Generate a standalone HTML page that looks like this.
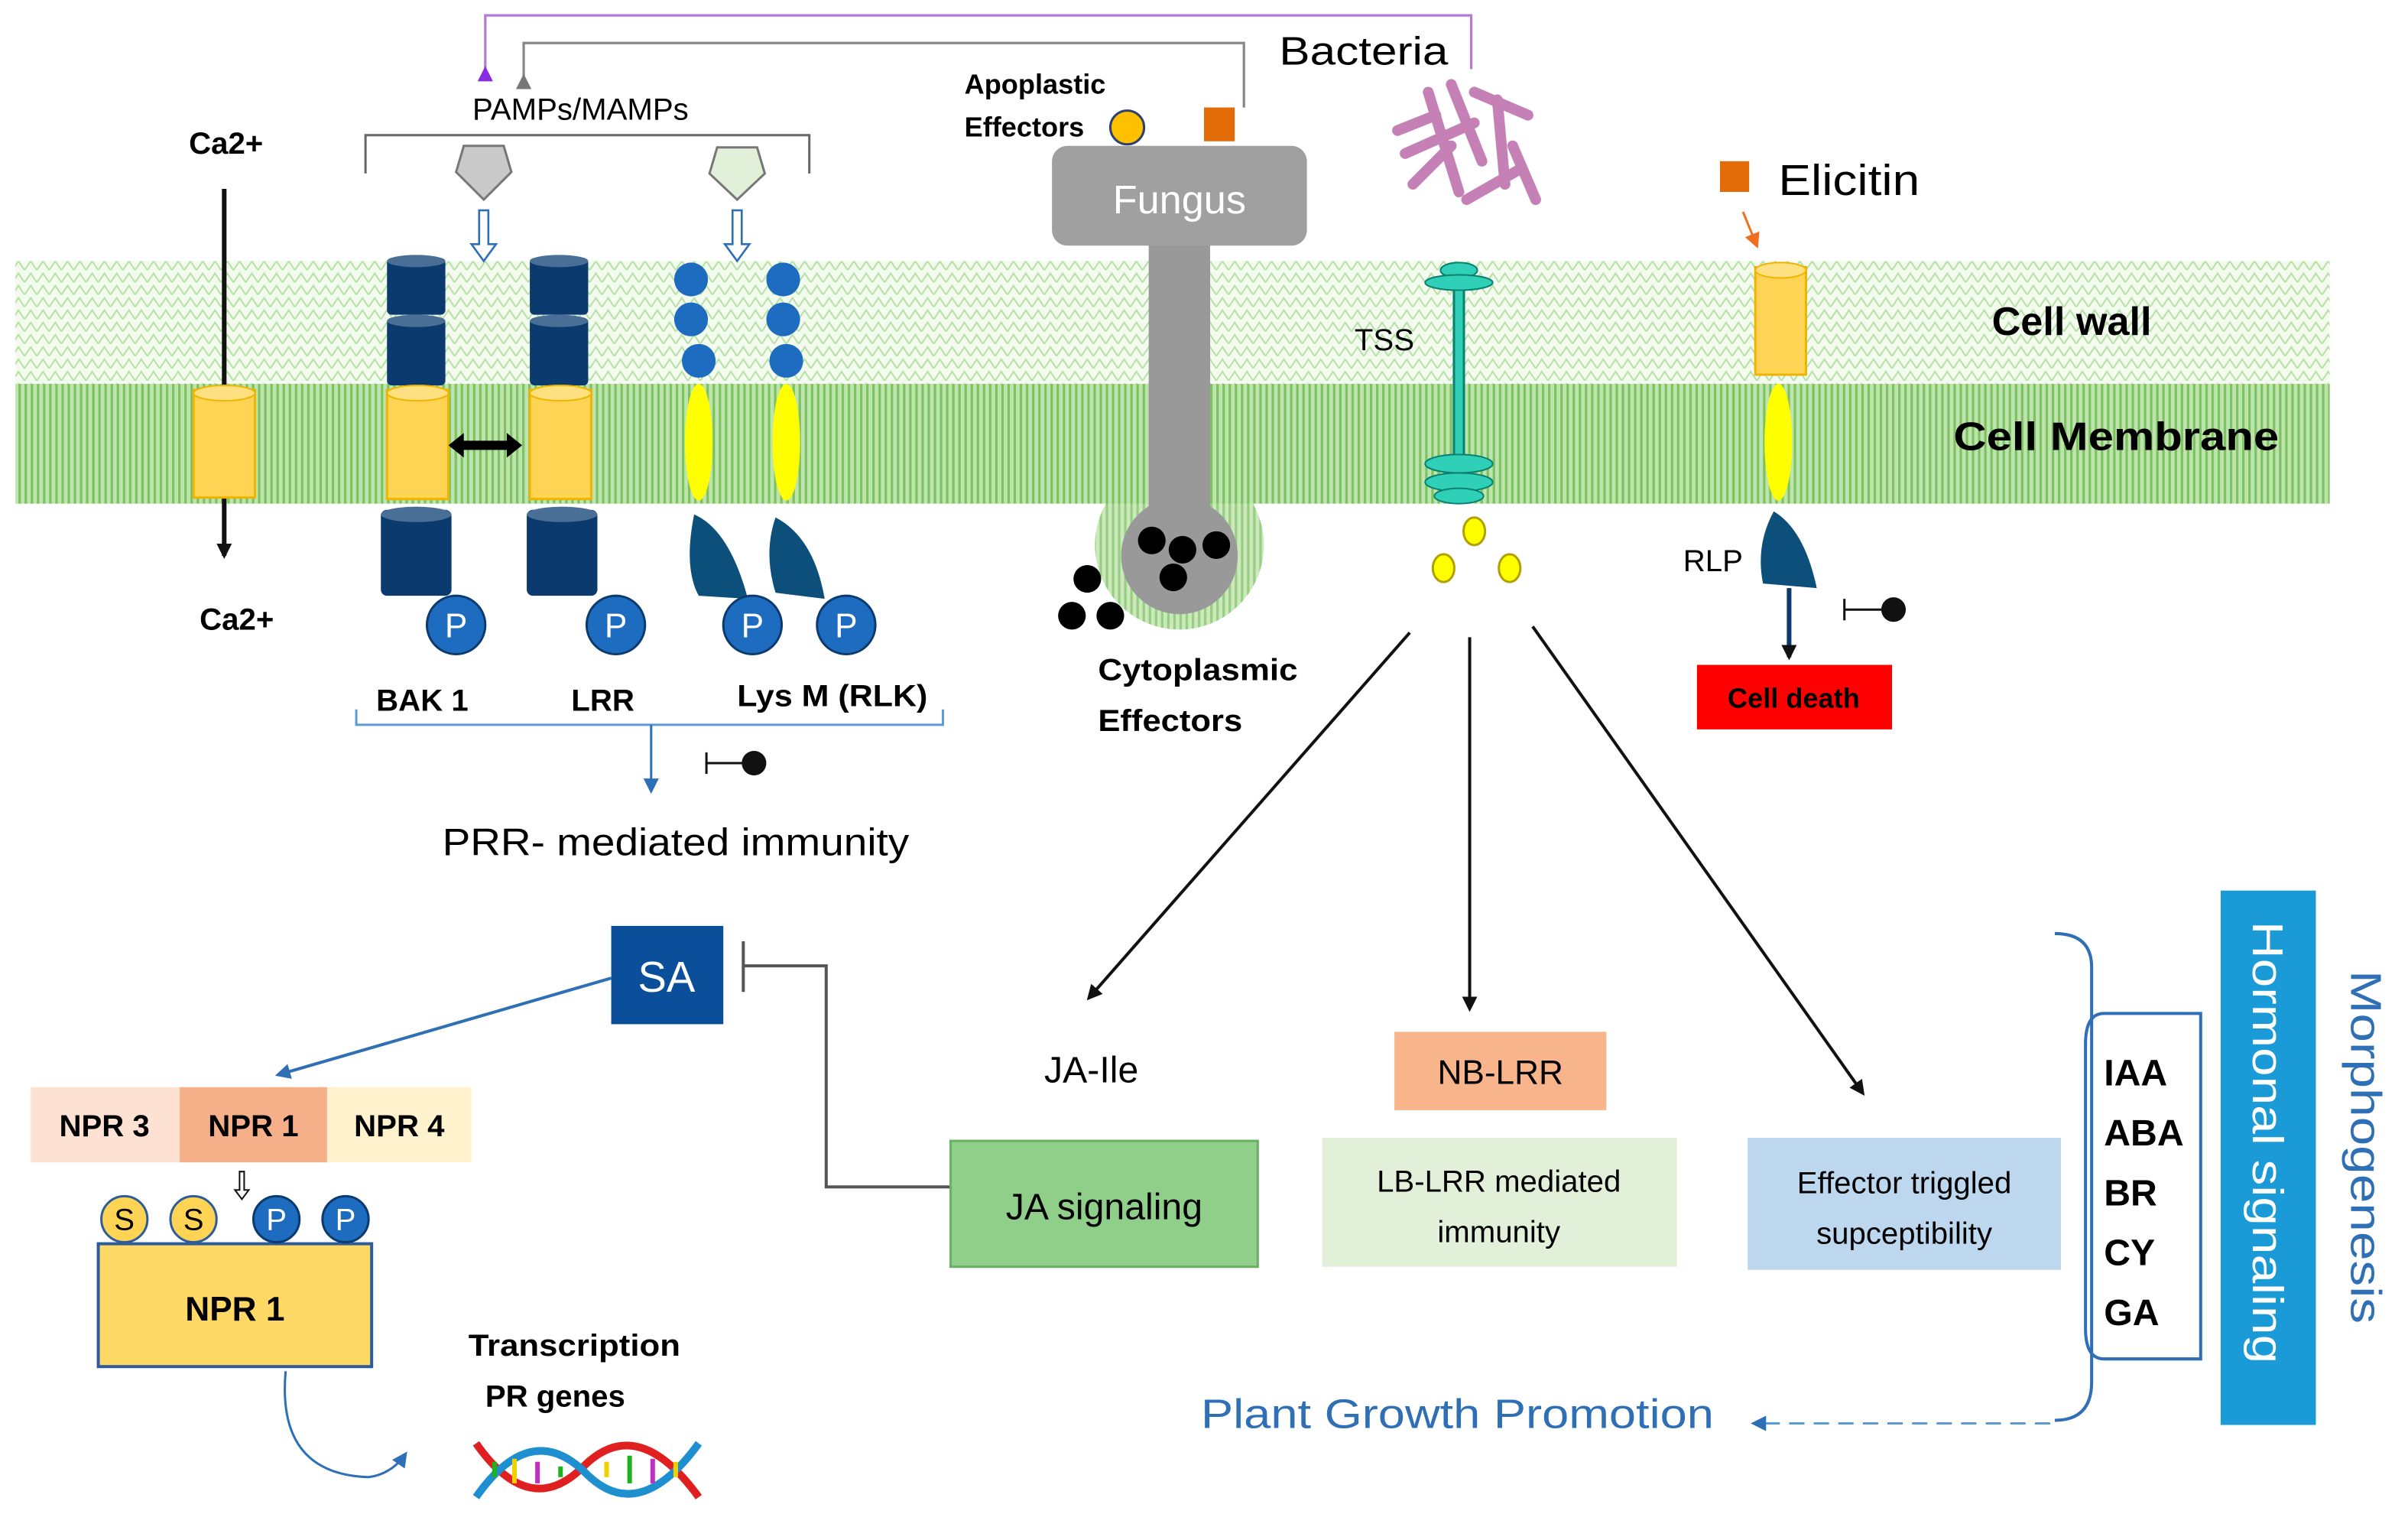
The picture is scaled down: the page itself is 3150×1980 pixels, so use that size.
<!DOCTYPE html>
<html><head><meta charset="utf-8"><style>
html,body{margin:0;padding:0;background:#fff;}
svg{display:block;}
text{font-family:"Liberation Sans","DejaVu Sans",sans-serif;}
.b{font-weight:bold;}
</style></head><body>
<svg width="3150" height="1980" viewBox="0 0 1568 986" preserveAspectRatio="none" xmlns="http://www.w3.org/2000/svg">
<defs>
<pattern id="hatch" width="8" height="8" patternUnits="userSpaceOnUse">
<rect width="8" height="8" fill="#f3fbef"/>
<path d="M0 8 L4 2 L8 8" fill="none" stroke="#b6e0a6" stroke-width="1"/>
</pattern>
<pattern id="vstripe" width="4" height="4" patternUnits="userSpaceOnUse">
<rect width="4" height="4" fill="#bfe3ae"/>
<rect width="1.6" height="4" fill="#7cc35f"/>
</pattern>
<marker id="ab" markerWidth="10" markerHeight="10" refX="8" refY="5" orient="auto" markerUnits="userSpaceOnUse"><path d="M0,0 L10,5 L0,10 z" fill="#111"/></marker>
<marker id="abl" markerWidth="10" markerHeight="10" refX="8" refY="5" orient="auto" markerUnits="userSpaceOnUse"><path d="M0,0 L10,5 L0,10 z" fill="#2e6fb5"/></marker>
<marker id="ap" markerWidth="10" markerHeight="10" refX="8" refY="5" orient="auto" markerUnits="userSpaceOnUse"><path d="M0,0 L10,5 L0,10 z" fill="#8a2be2"/></marker>
<marker id="ag" markerWidth="10" markerHeight="10" refX="8" refY="5" orient="auto" markerUnits="userSpaceOnUse"><path d="M0,0 L10,5 L0,10 z" fill="#777"/></marker>
<marker id="ao" markerWidth="10" markerHeight="10" refX="8" refY="5" orient="auto" markerUnits="userSpaceOnUse"><path d="M0,0 L10,5 L0,10 z" fill="#f07020"/></marker>
</defs>

<rect x="10" y="170" width="1507" height="80" fill="url(#hatch)"/>
<rect x="10" y="250" width="1507" height="78" fill="url(#vstripe)"/>
<text x="1297" y="218" font-size="26" class="b">Cell wall</text>
<text x="1272" y="293" font-size="26" class="b" textLength="212" lengthAdjust="spacingAndGlyphs">Cell Membrane</text>

<polyline points="316,45 316,10 958,10 958,45" fill="none" stroke="#b57ad6" stroke-width="1.6" marker-start="url(#ap)"/>
<polyline points="341,50 341,28 810,28 810,70" fill="none" stroke="#888" stroke-width="1.6" marker-start="url(#ag)"/>
<text x="833" y="42" font-size="26" textLength="110" lengthAdjust="spacingAndGlyphs">Bacteria</text>
<text x="378" y="78" font-size="20" text-anchor="middle">PAMPs/MAMPs</text>
<polyline points="238,113 238,88 527,88 527,113" fill="none" stroke="#666" stroke-width="1.5"/>
<polygon points="302,95 328,95 333,112 315,130 297,112" fill="#c9c9c9" stroke="#777" stroke-width="1.5"/>
<polygon points="467,96 493,96 498,113 480,130 462,113" fill="#e2f0d9" stroke="#777" stroke-width="1.5"/>
<path d="M312,137 h6 v22 h5 l-8,11 l-8,-11 h5 z" fill="#fff" stroke="#2e6fb5" stroke-width="1.3"/>
<path d="M477,137 h6 v22 h5 l-8,11 l-8,-11 h5 z" fill="#fff" stroke="#2e6fb5" stroke-width="1.3"/>

<text x="123" y="100" font-size="20" class="b">Ca2+</text>
<line x1="146" y1="123" x2="146" y2="362" stroke="#111" stroke-width="3" marker-end="url(#ab)"/>
<rect x="126" y="254" width="40" height="70" fill="#ffd455" stroke="#f0b400" stroke-width="1.5"/>
<ellipse cx="146" cy="256" rx="20" ry="5" fill="#ffe080" stroke="#f0b400"/>
<text x="130" y="410" font-size="20" class="b">Ca2+</text>

<g fill="#0b3a6e">
<rect x="252" y="168" width="38" height="37" rx="3"/><rect x="252" y="207" width="38" height="44" rx="3"/>
<rect x="248" y="332" width="46" height="56" rx="4"/>
<rect x="345" y="168" width="38" height="37" rx="3"/><rect x="345" y="207" width="38" height="44" rx="3"/>
<rect x="343" y="332" width="46" height="56" rx="4"/>
</g>
<g fill="#4a6f96">
<ellipse cx="271" cy="170" rx="19" ry="4"/><ellipse cx="271" cy="209" rx="19" ry="4"/><ellipse cx="271" cy="335" rx="23" ry="5"/>
<ellipse cx="364" cy="170" rx="19" ry="4"/><ellipse cx="364" cy="209" rx="19" ry="4"/><ellipse cx="366" cy="335" rx="23" ry="5"/>
</g>
<rect x="252" y="254" width="40" height="71" fill="#ffd455" stroke="#f0b400" stroke-width="1.5"/>
<rect x="345" y="254" width="40" height="71" fill="#ffd455" stroke="#f0b400" stroke-width="1.5"/>
<ellipse cx="272" cy="256" rx="20" ry="5" fill="#ffe080" stroke="#f0b400"/>
<ellipse cx="365" cy="256" rx="20" ry="5" fill="#ffe080" stroke="#f0b400"/>
<path d="M292,290 l10,-8 v5 h28 v-5 l10,8 l-10,8 v-5 h-28 v5 z" fill="#000"/>
<g fill="#1e6cc0">
<circle cx="450" cy="182" r="11"/><circle cx="450" cy="208" r="11"/><circle cx="455" cy="235" r="11"/>
<circle cx="510" cy="182" r="11"/><circle cx="510" cy="208" r="11"/><circle cx="512" cy="235" r="11"/>
</g>
<ellipse cx="455" cy="288" rx="9" ry="38" fill="#ffff00"/>
<ellipse cx="512" cy="288" rx="9" ry="38" fill="#ffff00"/>
<path d="M452,335 Q475,345 487,390 L455,388 Q445,370 452,335 z" fill="#0b4f7a"/>
<path d="M505,337 Q530,350 537,390 L505,386 Q497,360 505,337 z" fill="#0b4f7a"/>
<g fill="#1e6cc0" stroke="#0b3a6e" stroke-width="1.5">
<circle cx="297" cy="407" r="19"/><circle cx="401" cy="407" r="19"/><circle cx="490" cy="407" r="19"/><circle cx="551" cy="407" r="19"/>
</g>
<g fill="#fff" font-size="22" text-anchor="middle">
<text x="297" y="415">P</text><text x="401" y="415">P</text><text x="490" y="415">P</text><text x="551" y="415">P</text>
</g>
<text x="245" y="463" font-size="20" class="b">BAK 1</text>
<text x="372" y="463" font-size="20" class="b">LRR</text>
<text x="480" y="460" font-size="20" class="b" textLength="124" lengthAdjust="spacingAndGlyphs">Lys M (RLK)</text>
<polyline points="232,462 232,472 614,472 614,462" fill="none" stroke="#5b9bd5" stroke-width="1.5"/>
<line x1="424" y1="472" x2="424" y2="515" stroke="#2e6fb5" stroke-width="1.5" marker-end="url(#abl)"/>
<line x1="460" y1="490" x2="460" y2="504" stroke="#111" stroke-width="1.5"/>
<line x1="460" y1="497" x2="485" y2="497" stroke="#111" stroke-width="1.5"/>
<circle cx="491" cy="497" r="8" fill="#111"/>
<text x="288" y="557" font-size="25" textLength="304" lengthAdjust="spacingAndGlyphs">PRR- mediated immunity</text>

<circle cx="768" cy="355" r="55" fill="url(#vstripe)" opacity="0.8"/>
<rect x="748" y="150" width="40" height="190" fill="#999"/>
<circle cx="768" cy="362" r="38" fill="#999"/>
<rect x="685" y="95" width="166" height="65" rx="10" fill="#a0a0a0"/>
<text x="768" y="139" font-size="26" fill="#fff" text-anchor="middle">Fungus</text>
<g fill="#000">
<circle cx="750" cy="352" r="9"/><circle cx="770" cy="358" r="9"/><circle cx="792" cy="355" r="9"/><circle cx="764" cy="376" r="9"/>
<circle cx="708" cy="377" r="9"/><circle cx="698" cy="401" r="9"/><circle cx="723" cy="401" r="9"/>
</g>
<text x="628" y="61" font-size="18" class="b">Apoplastic</text>
<text x="628" y="89" font-size="18" class="b">Effectors</text>
<circle cx="734" cy="83" r="11" fill="#ffc000" stroke="#2e3f70" stroke-width="1.5"/>
<rect x="784" y="70" width="20" height="22" fill="#e36c09"/>
<text x="715" y="443" font-size="20" class="b" textLength="130" lengthAdjust="spacingAndGlyphs">Cytoplasmic</text>
<text x="715" y="476" font-size="20" class="b" textLength="94" lengthAdjust="spacingAndGlyphs">Effectors</text>

<g stroke="#c580b5" stroke-width="7" stroke-linecap="round">
<line x1="930" y1="60" x2="950" y2="125"/><line x1="945" y1="55" x2="965" y2="105"/>
<line x1="915" y1="100" x2="960" y2="80"/><line x1="960" y1="60" x2="995" y2="75"/>
<line x1="975" y1="65" x2="980" y2="120"/><line x1="920" y1="120" x2="945" y2="95"/>
<line x1="985" y1="95" x2="1000" y2="130"/><line x1="955" y1="130" x2="990" y2="110"/>
<line x1="910" y1="85" x2="935" y2="75"/>
</g>
<line x1="950" y1="180" x2="950" y2="310" stroke="#0a8070" stroke-width="8"/>
<line x1="950" y1="180" x2="950" y2="310" stroke="#30d0b8" stroke-width="5"/>
<g fill="#30d0b8" stroke="#0a8070" stroke-width="1">
<ellipse cx="950" cy="176" rx="12" ry="5"/><ellipse cx="950" cy="184" rx="22" ry="5"/>
<ellipse cx="950" cy="302" rx="22" ry="6"/><ellipse cx="950" cy="314" rx="22" ry="6"/><ellipse cx="950" cy="323" rx="16" ry="5"/>
</g>
<text x="882" y="228" font-size="20">TSS</text>
<g fill="#ffff00" stroke="#b0a000" stroke-width="1.5">
<ellipse cx="960" cy="346" rx="7" ry="9"/><ellipse cx="940" cy="370" rx="7" ry="9"/><ellipse cx="983" cy="370" rx="7" ry="9"/>
</g>

<rect x="1120" y="105" width="19" height="20" fill="#e36c09"/>
<text x="1158" y="127" font-size="28" textLength="92" lengthAdjust="spacingAndGlyphs">Elicitin</text>
<line x1="1135" y1="138" x2="1144" y2="160" stroke="#f07020" stroke-width="1.5" marker-end="url(#ao)"/>
<rect x="1143" y="174" width="33" height="70" fill="#ffd455" stroke="#f0b400" stroke-width="1.5"/>
<ellipse cx="1159.5" cy="176" rx="16.5" ry="5" fill="#ffe080" stroke="#f0b400"/>
<ellipse cx="1158" cy="288" rx="9" ry="38" fill="#ffff00"/>
<path d="M1155,333 Q1175,345 1183,383 L1148,380 Q1143,355 1155,333 z" fill="#0b4f7a"/>
<text x="1096" y="372" font-size="20">RLP</text>
<line x1="1165" y1="383" x2="1165" y2="428" stroke="#0b3a6e" stroke-width="3" marker-end="url(#ab)"/>
<line x1="1201" y1="390" x2="1201" y2="404" stroke="#111" stroke-width="1.5"/>
<line x1="1201" y1="397" x2="1228" y2="397" stroke="#111" stroke-width="1.5"/>
<circle cx="1233" cy="397" r="8" fill="#111"/>
<rect x="1105" y="433" width="127" height="42" fill="#ff0000"/>
<text x="1168" y="461" font-size="18" class="b" text-anchor="middle">Cell death</text>

<line x1="918" y1="412" x2="709" y2="650" stroke="#111" stroke-width="2" marker-end="url(#ab)"/>
<line x1="957" y1="415" x2="957" y2="657" stroke="#111" stroke-width="2" marker-end="url(#ab)"/>
<line x1="998" y1="408" x2="1213" y2="712" stroke="#111" stroke-width="2" marker-end="url(#ab)"/>

<rect x="398" y="603" width="73" height="64" fill="#0b4f9a"/>
<text x="434" y="646" font-size="28" fill="#fff" text-anchor="middle">SA</text>
<line x1="398" y1="637" x2="181" y2="700" stroke="#2e6fb5" stroke-width="2" marker-end="url(#abl)"/>
<polyline points="619,773 538,773 538,629 484,629" fill="none" stroke="#555" stroke-width="2"/>
<line x1="484" y1="613" x2="484" y2="646" stroke="#555" stroke-width="2"/>
<text x="680" y="705" font-size="24">JA-Ile</text>

<rect x="20" y="708" width="97" height="49" fill="#fde2d4"/>
<rect x="117" y="708" width="96" height="49" fill="#f5b08a"/>
<rect x="213" y="708" width="94" height="49" fill="#fff2cc"/>
<g font-size="20" class="b" text-anchor="middle">
<text x="68" y="740">NPR 3</text><text x="165" y="740">NPR 1</text><text x="260" y="740">NPR 4</text>
</g>
<path d="M156,763 h3 v12 h3 l-4.5,6 l-4.5,-6 h3 z" fill="#fff" stroke="#111" stroke-width="1"/>
<rect x="64" y="810" width="178" height="80" fill="#ffd966" stroke="#2e5c9a" stroke-width="2"/>
<text x="153" y="860" font-size="22" class="b" text-anchor="middle">NPR 1</text>
<g stroke-width="1.5">
<circle cx="81" cy="794" r="15" fill="#ffd455" stroke="#2e5c9a"/><circle cx="126" cy="794" r="15" fill="#ffd455" stroke="#2e5c9a"/>
<circle cx="180" cy="794" r="15" fill="#1e6cc0" stroke="#0b3a6e"/><circle cx="225" cy="794" r="15" fill="#1e6cc0" stroke="#0b3a6e"/>
</g>
<g font-size="20" text-anchor="middle"><text x="81" y="801">S</text><text x="126" y="801">S</text><text x="180" y="801" fill="#fff">P</text><text x="225" y="801" fill="#fff">P</text></g>
<path d="M186,893 Q180,960 240,962 Q255,960 264,947" fill="none" stroke="#2e6fb5" stroke-width="1.5" marker-end="url(#abl)"/>
<text x="305" y="883" font-size="20" class="b" textLength="138" lengthAdjust="spacingAndGlyphs">Transcription</text>
<text x="316" y="916" font-size="20" class="b">PR genes</text>
<path d="M310,940 Q345,990 380,955 Q415,920 455,975" fill="none" stroke="#e02020" stroke-width="5"/>
<path d="M310,975 Q345,925 380,958 Q415,995 455,940" fill="none" stroke="#1e90d0" stroke-width="5"/>
<g stroke-width="3">
<line x1="322" y1="952" x2="322" y2="962" stroke="#20b020"/><line x1="335" y1="950" x2="335" y2="966" stroke="#f0d000"/>
<line x1="350" y1="952" x2="350" y2="966" stroke="#c030c0"/><line x1="365" y1="955" x2="365" y2="962" stroke="#20b020"/>
<line x1="395" y1="952" x2="395" y2="962" stroke="#f0d000"/><line x1="410" y1="948" x2="410" y2="966" stroke="#20b020"/>
<line x1="425" y1="950" x2="425" y2="966" stroke="#c030c0"/><line x1="440" y1="952" x2="440" y2="962" stroke="#f0d000"/>
</g>

<rect x="619" y="743" width="200" height="82" fill="#8fcf8a" stroke="#6ab064" stroke-width="1.5"/>
<text x="719" y="794" font-size="24" text-anchor="middle">JA signaling</text>
<rect x="908" y="672" width="138" height="51" fill="#f8b48a"/>
<text x="977" y="706" font-size="22" text-anchor="middle">NB-LRR</text>
<rect x="861" y="741" width="231" height="84" fill="#e2f0d9"/>
<text x="976" y="776" font-size="20" text-anchor="middle">LB-LRR mediated</text>
<text x="976" y="809" font-size="20" text-anchor="middle">immunity</text>
<rect x="1138" y="741" width="204" height="86" fill="#bdd7ee"/>
<text x="1240" y="777" font-size="20" text-anchor="middle">Effector triggled</text>
<text x="1240" y="810" font-size="20" text-anchor="middle">supceptibility</text>

<path d="M1338,608 Q1362,608 1362,630 V900 Q1362,925 1338,925" fill="none" stroke="#2e6fb5" stroke-width="2"/>
<path d="M1370,660 Q1358,660 1358,680 V865 Q1358,885 1370,885 H1433 V660 Z" fill="none" stroke="#2e6fb5" stroke-width="2"/>
<g font-size="24" class="b">
<text x="1370" y="707">IAA</text><text x="1370" y="746">ABA</text><text x="1370" y="785">BR</text><text x="1370" y="824">CY</text><text x="1370" y="863">GA</text>
</g>
<rect x="1446" y="580" width="62" height="348" fill="#1a9bd7"/>
<text transform="translate(1467,600) rotate(90)" font-size="28" fill="#fff" textLength="288" lengthAdjust="spacingAndGlyphs">Hormonal signaling</text>
<text transform="translate(1531,632) rotate(90)" font-size="28" fill="#2e6fb5" textLength="230" lengthAdjust="spacingAndGlyphs">Morphogenesis</text>
<text x="782" y="930" font-size="27" fill="#2e6fb5" textLength="334" lengthAdjust="spacingAndGlyphs">Plant Growth Promotion</text>
<line x1="1335" y1="927" x2="1142" y2="927" stroke="#5b9bd5" stroke-width="1.5" stroke-dasharray="10,6" marker-end="url(#abl)"/>
</svg>
</body></html>
